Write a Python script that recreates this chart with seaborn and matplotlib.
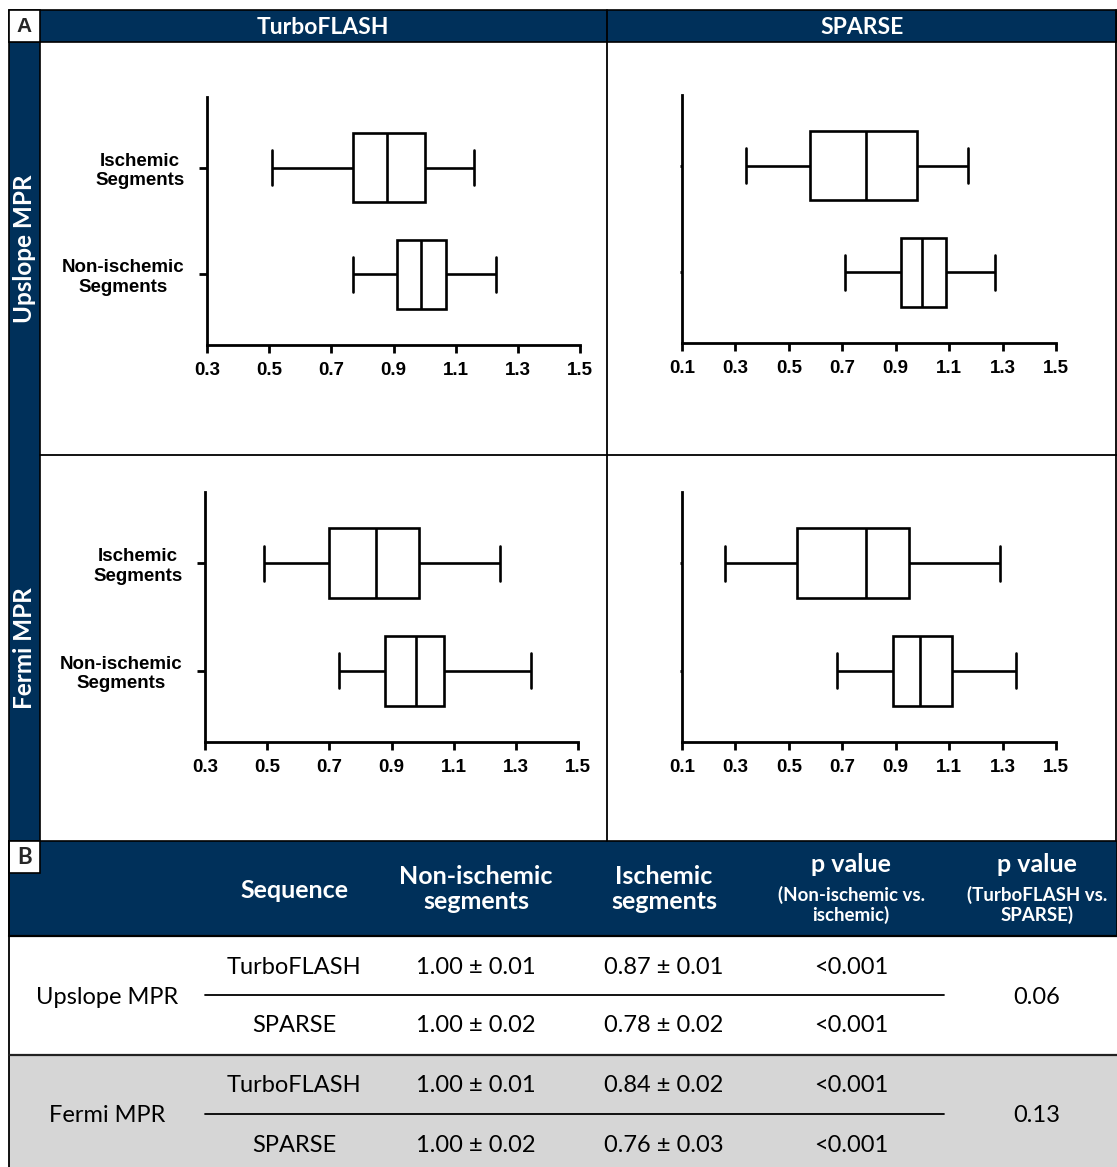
import pandas as pd
import matplotlib.pyplot as plt
import seaborn as sns
from matplotlib.patches import Rectangle

# five-number summaries: [min, q1, median, q3, max]
upslope_turbo_isch = [0.51, 0.77, 0.88, 1.00, 1.16]
upslope_turbo_non = [0.77, 0.91, 0.99, 1.07, 1.23]
upslope_sparse_isch = [0.34, 0.58, 0.79, 0.98, 1.17]
upslope_sparse_non = [0.71, 0.92, 1.00, 1.09, 1.27]
fermi_turbo_isch = [0.49, 0.70, 0.85, 0.99, 1.25]
fermi_turbo_non = [0.73, 0.88, 0.98, 1.07, 1.35]
fermi_sparse_isch = [0.26, 0.53, 0.79, 0.95, 1.29]
fermi_sparse_non = [0.68, 0.89, 0.99, 1.11, 1.35]

groups = ['Ischemic\nSegments', 'Non-ischemic\nSegments']
turbo_ticks = [0.3, 0.5, 0.7, 0.9, 1.1, 1.3, 1.5]
sparse_ticks = [0.1, 0.3, 0.5, 0.7, 0.9, 1.1, 1.3, 1.5]
col_titles = ['TurboFLASH', 'SPARSE']
row_titles = ['Upslope MPR', 'Fermi MPR']

# table (panel B)
table_rows = ['Upslope MPR', 'Fermi MPR']
seq_names = ['TurboFLASH', 'SPARSE', 'TurboFLASH', 'SPARSE']
nonisch_vals = ['1.00 ± 0.01', '1.00 ± 0.02', '1.00 ± 0.01', '1.00 ± 0.02']
isch_vals = ['0.87 ± 0.01', '0.78 ± 0.02', '0.84 ± 0.02', '0.76 ± 0.03']
p_within = ['<0.001', '<0.001', '<0.001', '<0.001']
p_between = ['0.06', '0.13']

NAVY = '#00305a'
GREY = '#d6d6d6'
W, H = 1117, 1167

sns.set_style('ticks')
plt.rcParams['font.family'] = ['Liberation Sans', 'DejaVu Sans']


def px_rect(x0, y0, x1, y1):
    return [x0 / W, 1 - y1 / H, (x1 - x0) / W, (y1 - y0) / H]


def box_panel(ax, isch, non, ticks, show_labels):
    df = pd.DataFrame({'value': isch + non,
                       'group': [groups[0]] * len(isch) + [groups[1]] * len(non)})
    sns.boxplot(data=df, x='value', y='group', order=groups, orient='h',
                whis=(0, 100), width=0.65, color='white', linecolor='black',
                linewidth=1.9, ax=ax)
    ax.set_xlim(ticks[0], ticks[-1])
    ax.set_xticks(ticks)
    ax.set_xticklabels([f'{t:.1f}' for t in ticks], fontweight='bold', fontsize=13.5)
    ax.set_ylim(1.66, -0.66)
    ax.set_xlabel('')
    ax.set_ylabel('')
    ax.patch.set_alpha(0)
    for side in ['top', 'right']:
        ax.spines[side].set_visible(False)
    for side in ['left', 'bottom']:
        ax.spines[side].set_linewidth(2)
        ax.spines[side].set_color('black')
    ax.tick_params(axis='x', length=6, width=2, pad=6, colors='black')
    if show_labels:
        ax.tick_params(axis='y', length=6, width=2, pad=10, colors='black')
        ax.set_yticklabels(groups, fontweight='bold', fontsize=13.5,
                           multialignment='center')
    else:
        ax.tick_params(axis='y', length=1.5, width=2, colors='black')
        ax.set_yticklabels(['', ''])


fig = plt.figure(figsize=(W / 100, H / 100), dpi=100)
bg = fig.add_axes([0, 0, 1, 1])
bg.set_xlim(0, W)
bg.set_ylim(H, 0)
bg.axis('off')

# ---- panel A frame ----
bg.add_patch(Rectangle((9, 10), W - 9, 32, facecolor=NAVY, edgecolor='black', lw=1.2))
bg.add_patch(Rectangle((9, 42), 31, 799, facecolor=NAVY, edgecolor='black', lw=1.2))
bg.add_patch(Rectangle((9, 10), 31, 32, facecolor='white', edgecolor='black', lw=1.2))
bg.text(24.5, 27, 'A', ha='center', va='center', fontsize=15, fontweight='bold')
bg.plot([607, 607], [10, 841], color='black', lw=1.3)
bg.plot([40, W], [455, 455], color='black', lw=1.3)
bg.plot([W - 1, W - 1], [10, 841], color='black', lw=1.3)
for x, t in zip([323, 862], col_titles):
    bg.text(x, 27, t, ha='center', va='center', color='white', fontsize=16.5,
            fontweight='bold', family='Lato')
for y, t in zip([249, 648], row_titles):
    bg.text(25, y, t, ha='center', va='center', color='white', fontsize=17.5,
            fontweight='bold', family='Lato', rotation=90)

# ---- box plots ----
ax1 = fig.add_axes(px_rect(207, 97, 580, 345))
box_panel(ax1, upslope_turbo_isch, upslope_turbo_non, turbo_ticks, True)
ax2 = fig.add_axes(px_rect(682, 95, 1056, 343))
box_panel(ax2, upslope_sparse_isch, upslope_sparse_non, sparse_ticks, False)
ax3 = fig.add_axes(px_rect(205, 492, 578, 742))
box_panel(ax3, fermi_turbo_isch, fermi_turbo_non, turbo_ticks, True)
ax4 = fig.add_axes(px_rect(682, 492, 1056, 742))
box_panel(ax4, fermi_sparse_isch, fermi_sparse_non, sparse_ticks, False)

# ---- panel B table ----
bg.add_patch(Rectangle((9, 841), W - 9, 95, facecolor=NAVY, edgecolor='black', lw=1.2))
bg.add_patch(Rectangle((9, 936), W - 9, 119, facecolor='white', edgecolor='none'))
bg.add_patch(Rectangle((9, 1055), W - 9, H - 1055, facecolor=GREY, edgecolor='none'))
bg.plot([9, 9], [841, H], color='black', lw=1.3)
bg.plot([9, W], [936, 936], color='black', lw=1.6)
bg.plot([9, W], [1055, 1055], color='#222222', lw=1.6)
bg.add_patch(Rectangle((9, 841), 31, 32, facecolor='white', edgecolor='black', lw=1.2))
bg.text(24.5, 858, 'B', ha='center', va='center', fontsize=16, fontweight='bold',
        family='Lato')

hdr = dict(ha='center', va='center', color='white', fontweight='bold', family='Lato')
bg.text(294, 890, 'Sequence', fontsize=18, **hdr)
bg.text(476, 889, 'Non-ischemic\nsegments', fontsize=18, linespacing=1.15, **hdr)
bg.text(664, 889, 'Ischemic\nsegments', fontsize=18, linespacing=1.15, **hdr)
bg.text(851, 865, 'p value', fontsize=18, **hdr)
bg.text(851, 905, '(Non-ischemic vs.\nischemic)', fontsize=13.5, linespacing=1.1, **hdr)
bg.text(1037, 865, 'p value', fontsize=18, **hdr)
bg.text(1037, 905, '(TurboFLASH vs.\nSPARSE)', fontsize=13.5, linespacing=1.1, **hdr)

body = dict(ha='center', va='center', color='black', family='Lato', fontsize=17)
row_y = [967, 1026, 1086, 1145]
for y, s, n, i, p in zip(row_y, seq_names, nonisch_vals, isch_vals, p_within):
    bg.text(294, y, s, **body)
    bg.text(476, y, n, **body)
    bg.text(664, y, i, **body)
    bg.text(851, y, p, **body)
for y, r, p in zip([997, 1116], table_rows, p_between):
    bg.text(107, y, r, **body)
    bg.text(1037, y, p, **body)
    bg.plot([205, 944], [y - 2, y - 2], color='black', lw=1.3)

fig.savefig('out.png', dpi=100)
